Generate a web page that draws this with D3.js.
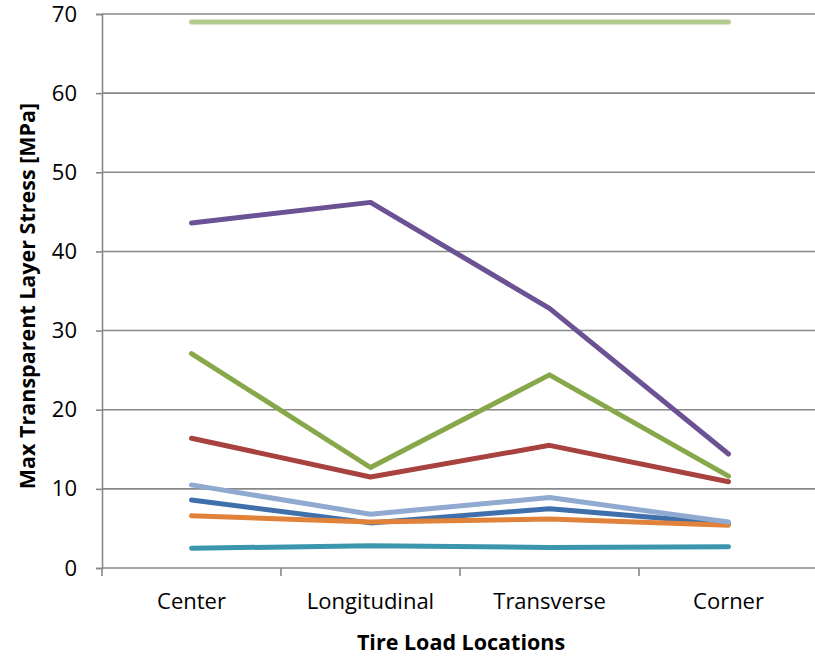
<!DOCTYPE html>
<html>
<head>
<meta charset="utf-8">
<script src="https://cdn.jsdelivr.net/npm/d3@7"></script>
<style>
  html, body { margin: 0; padding: 0; background: #fff; }
  svg { display: block; }
  text { font-family: "Open Sans", Lato, sans-serif; fill: #000; }
</style>
</head>
<body>
<script>
const categories = ["Center", "Longitudinal", "Transverse", "Corner"];
const yTicks = [0, 10, 20, 30, 40, 50, 60, 70];

const seriesDarkBlue  = [8.6, 5.7, 7.5, 5.6];
const seriesRed       = [16.4, 11.5, 15.5, 10.9];
const seriesGreen     = [27.1, 12.7, 24.4, 11.6];
const seriesPurple    = [43.6, 46.2, 32.8, 14.4];
const seriesTeal      = [2.5, 2.8, 2.6, 2.7];
const seriesOrange    = [6.6, 5.8, 6.2, 5.4];
const seriesLightBlue = [10.5, 6.8, 8.9, 5.8];
const seriesLightGreen= [69.0, 69.0, 69.0, 69.0];

const series = [
  { values: seriesDarkBlue,   color: "#4070AC" },
  { values: seriesRed,        color: "#A8423F" },
  { values: seriesGreen,      color: "#87A84A" },
  { values: seriesPurple,     color: "#6B5294" },
  { values: seriesTeal,       color: "#3C97AE" },
  { values: seriesOrange,     color: "#E0823A" },
  { values: seriesLightBlue,  color: "#8FA9D1" },
  { values: seriesLightGreen, color: "#B4CB8F" }
];

const W = 815, H = 657;
const mLeft = 102, mRight = 818, mTop = 14, mBottom = 568;

const svg = d3.select("body").append("svg").attr("width", W).attr("height", H);

const x = d3.scaleBand().domain(categories).range([mLeft, mRight]);
const y = d3.scaleLinear().domain([0, 70]).range([mBottom, mTop]);

// gridlines
svg.append("g").selectAll("line").data(yTicks).join("line")
  .attr("x1", mLeft).attr("x2", mRight)
  .attr("y1", d => y(d)).attr("y2", d => y(d))
  .attr("stroke", "#888").attr("stroke-width", 1.6);

// y axis
const yAxis = svg.append("g").attr("transform", `translate(${mLeft},0)`)
  .call(d3.axisLeft(y).tickValues(yTicks).tickSize(6).tickPadding(19).tickFormat(d3.format("d")));
yAxis.select(".domain").attr("stroke", "#888").attr("stroke-width", 1.6);
yAxis.selectAll(".tick line").attr("stroke", "#888").attr("stroke-width", 1.6);
yAxis.selectAll(".tick text").attr("font-size", 22).attr("font-family", "'Open Sans', sans-serif").attr("fill", "#000");

// x axis
const xAxis = svg.append("g").attr("transform", `translate(0,${mBottom})`)
  .call(d3.axisBottom(x).tickSize(0).tickPadding(25));
xAxis.select(".domain").remove();
xAxis.selectAll(".tick text").attr("font-size", 22).attr("font-family", "'Open Sans', sans-serif").attr("fill", "#000");
// x tick marks at band boundaries
const bounds = categories.map(c => x(c));
svg.append("g").selectAll("line").data(bounds).join("line")
  .attr("x1", d => d).attr("x2", d => d)
  .attr("y1", mBottom).attr("y2", mBottom + 8)
  .attr("stroke", "#888").attr("stroke-width", 1.6);

// lines
const line = d3.line()
  .x((d, i) => x(categories[i]) + x.bandwidth() / 2)
  .y(d => y(d));
svg.append("g").selectAll("path").data(series).join("path")
  .attr("d", s => line(s.values))
  .attr("fill", "none")
  .attr("stroke", s => s.color)
  .attr("stroke-width", 5)
  .attr("stroke-linecap", "round")
  .attr("stroke-linejoin", "round");

// axis titles
svg.append("text")
  .attr("x", 461).attr("y", 650)
  .attr("text-anchor", "middle")
  .attr("font-size", 21.5).attr("font-weight", "bold")
  .text("Tire Load Locations");

svg.append("text")
  .attr("transform", "translate(35,296) rotate(-90)")
  .attr("text-anchor", "middle")
  .attr("font-size", 21.5).attr("font-weight", "bold")
  .text("Max Transparent Layer Stress [MPa]");
</script>
</body>
</html>
